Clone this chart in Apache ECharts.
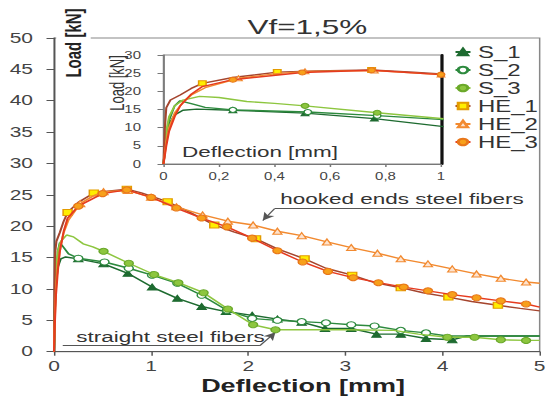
<!DOCTYPE html>
<html><head><meta charset="utf-8">
<script src="https://cdn.jsdelivr.net/npm/echarts/dist/echarts.min.js"></script>
<style>
html,body{margin:0;padding:0;background:#fff;}
#wrap{width:550px;height:396px;overflow:hidden;position:relative;}
#c{width:367px;height:396px;transform:scaleX(1.49864);transform-origin:0 0;}
</style>
</head><body><div id="wrap"><div id="c"></div></div>
<script>
// ---- data: [deflection (mm), load (kN), marker shown (1/0)] ----
const seriesNames = ['S_1','S_2','S_3','HE_1','HE_2','HE_3'];
const s1 = [[0,0,0],[0.01,7,0],[0.02,11,0],[0.04,13.5,0],[0.07,14.8,0],[0.12,15.1,0],[0.25,14.8,1],[0.51,14.0,1],[0.76,12.5,1],[1.01,10.3,1],[1.27,8.5,1],[1.52,7.2,1],[1.77,6.4,1],[2.04,5.8,1],[2.3,5.2,1],[2.55,4.7,1],[2.79,3.7,1],[3.06,3.7,1],[3.32,2.8,1],[3.57,2.8,1],[3.83,2.1,1],[4.1,1.9,1],[4.25,2.5,0],[5,2.5,0]];
const s2 = [[0,0,0],[0.01,8,0],[0.02,12,0],[0.04,16,0],[0.06,17.4,0],[0.1,16.6,0],[0.15,15.6,0],[0.25,14.9,1],[0.52,14.3,1],[0.77,13.3,1],[1.01,12.2,1],[1.27,10.9,1],[1.52,9.0,1],[1.78,6.6,1],[2.04,5.3,1],[2.3,5.0,1],[2.55,4.8,1],[2.8,4.6,1],[3.06,4.3,1],[3.3,4.1,1],[3.57,3.4,1],[3.83,3.0,1],[4.05,2.5,0],[5,2.5,0]];
const s3 = [[0,0,0],[0.01,9,0],[0.02,13,0],[0.04,16,0],[0.07,17.6,0],[0.13,18.6,0],[0.2,18.3,0],[0.3,17.2,0],[0.4,16.7,0],[0.51,16.0,1],[0.77,14.1,1],[1.03,12.3,1],[1.28,11.0,1],[1.54,9.4,1],[1.79,6.8,1],[2.05,4.3,1],[2.28,3.5,1],[2.6,3.5,0],[3.0,3.5,0],[3.5,3.4,0],[3.75,2.8,0],[4.05,2.3,1],[4.33,2.3,1],[4.6,1.9,1],[4.86,1.8,1],[5,1.8,0]];
const he1 = [[0,0,0],[0.005,10,0],[0.01,15.5,0],[0.025,17.6,0],[0.06,19,0],[0.1,20.8,0],[0.14,22.2,1],[0.25,23.8,0],[0.41,25.3,1],[0.55,25.6,0],[0.75,25.9,1],[0.9,25.3,0],[1.0,24.8,0],[1.17,23.9,1],[1.4,22.2,0],[1.65,20.2,1],[1.85,19.1,0],[2.08,18.0,1],[2.3,16.4,0],[2.58,14.8,1],[2.8,13.3,0],[3.07,12.2,1],[3.3,11.0,0],[3.57,10.2,1],[3.8,9.4,0],[4.06,8.7,1],[4.3,8.0,0],[4.57,7.4,1],[4.8,6.9,0],[5,6.5,0]];
const he2 = [[0,0,0],[0.01,6,0],[0.02,10,0],[0.04,14,0],[0.07,17,0],[0.1,19,0],[0.15,21,0],[0.27,23.6,1],[0.4,24.8,0],[0.51,25.5,1],[0.76,25.7,1],[1.0,24.6,1],[1.26,23.1,1],[1.53,21.8,1],[1.79,20.8,1],[2.05,20.2,1],[2.3,19.2,1],[2.55,18.5,1],[2.81,17.5,1],[3.06,16.6,1],[3.33,15.7,1],[3.57,14.8,1],[3.85,14.0,1],[4.1,13.2,1],[4.35,12.4,1],[4.6,11.7,1],[4.86,11.1,1],[5,10.9,0]];
const he3 = [[0,0,0],[0.01,5,0],[0.02,9,0],[0.04,13,0],[0.06,16,0],[0.1,19.2,0],[0.14,21.3,0],[0.25,23.2,1],[0.5,25.2,1],[0.75,25.8,1],[1.0,24.6,1],[1.26,22.9,1],[1.52,21.3,1],[1.78,19.9,1],[2.04,18.1,1],[2.3,16.1,1],[2.56,14.3,1],[2.82,12.8,1],[3.08,11.8,1],[3.34,11.0,1],[3.6,10.3,1],[3.85,9.7,1],[4.1,9.1,1],[4.35,8.6,1],[4.6,8.1,1],[4.86,7.6,1],[5,7.1,0]];
const seriesData = [s1, s2, s3, he1, he2, he3];

const mainXLabels = ['0','1','2','3','4','5'];
const mainYLabels = ['0','5','10','15','20','25','30','35','40','45','50'];
const insetXLabels = ['0','0,2','0,4','0,6','0,8','1'];
const insetYLabels = ['0','5','10','15','20','25','30'];

// ---- styles ----
const FONT = 'Liberation Sans, Arial, sans-serif';
const styles = [
  {line:'#1e6b30', symbol:'triangle', fill:'#1e6b30', border:'#1e6b30'},
  {line:'#2d8a3e', symbol:'circle',   fill:'#ffffff', border:'#2d8a3e'},
  {line:'#8dc63f', symbol:'circle',   fill:'#8dc63f', border:'#6aa82a'},
  {line:'#a5452e', symbol:'rect',     fill:'#ffee00', border:'#e39b00'},
  {line:'#f28a30', symbol:'triangle', fill:'#fde3cf', border:'#f28a30'},
  {line:'#e63b1f', symbol:'circle',   fill:'#f7a01a', border:'#e8761a'}
];

function build(i, idx, size) {
  const st = styles[i];
  return {
    name: seriesNames[i], type: 'line', xAxisIndex: idx, yAxisIndex: idx,
    symbol: st.symbol, symbolSize: size, showSymbol: true, showAllSymbol: true,
    lineStyle: {color: st.line, width: 1.4},
    itemStyle: {color: st.fill, borderColor: st.border, borderWidth: 1},
    data: seriesData[i].map(p => p[2] ? {value: [p[0], p[1]]} : {value: [p[0], p[1]], symbol: 'none'}),
    clip: true, animation: false, silent: true, z: 5 + i
  };
}

const series = [];
for (let i = 0; i < 6; i++) series.push(build(i, 0, 6));
for (let i = 0; i < 6; i++) series.push(build(i, 1, 5));

const annLabel = {color:'#333', fontSize:15, fontFamily:FONT};
// annotations on main grid
series[4].markLine = {
  silent: true, animation: false, symbol: ['none','none'], symbolSize: [6, 8],
  lineStyle: {color:'#555', width:1, type:'solid'}, label: {show:false},
  data: [
    [{coord:[2.27,22.8]},{coord:[4.72,22.8]}],
    [{coord:[2.27,22.8]},{coord:[2.15,20.9], symbol:'arrow'}]
  ]
};
series[4].markPoint = {
  silent: true, animation: false, symbol: 'circle', symbolSize: 0,
  itemStyle: {color:'transparent'},
  label: Object.assign({show:true, position:'right', distance:0}, annLabel),
  data: [{coord:[2.33,24.3], value:0, label:{formatter:'hooked ends steel fibers'}}]
};
series[0].markLine = {
  silent: true, animation: false, symbol: ['none','none'], symbolSize: [6, 8],
  lineStyle: {color:'#555', width:1, type:'solid'}, label: {show:false},
  data: [
    [{coord:[0.09,0.96]},{coord:[2.12,0.96]}],
    [{coord:[2.12,0.96]},{coord:[2.28,3.1], symbol:'arrow'}]
  ]
};
series[0].markPoint = {
  silent: true, animation: false, symbol: 'circle', symbolSize: 0,
  itemStyle: {color:'transparent'},
  label: Object.assign({show:true, position:'right', distance:0}, annLabel),
  data: [{coord:[0.23,2.3], value:0, label:{formatter:'straight steel fibers'}}]
};

const S = 550 / 367;
const px = x => x / S;

const option = {
  backgroundColor: '#fff',
  animation: false,
  textStyle: {fontFamily: FONT},
  title: {text: 'Vf=1,5%', left: px(240), top: 11,
    textStyle: {fontSize: 21, fontWeight: 'normal', color: '#333', fontFamily: FONT}},
  legend: {
    data: seriesNames, orient: 'vertical', left: px(454), top: 44,
    itemWidth: 10, itemHeight: 8, itemGap: 2, padding: 0,
    textStyle: {fontSize: 16, color: '#333', fontFamily: FONT}
  },
  grid: [
    {left: px(54), right: px(5), top: 38, bottom: 44.3, show: true, borderColor: '#888', borderWidth: 1},
    {left: px(163.5), right: px(109), top: 55, bottom: 232, show: true, borderColor: '#888', borderWidth: 1, backgroundColor: '#fff'}
  ],
  xAxis: [
    {type:'value', gridIndex:0, min:0, max:5, interval:1,
      axisLine:{show:true, lineStyle:{color:'#555'}}, axisTick:{show:true, length:4, lineStyle:{color:'#555'}},
      axisLabel:{fontSize:14, color:'#444', margin:8, formatter:(v,i)=>mainXLabels[i]}, splitLine:{show:false}},
    {type:'value', gridIndex:1, min:0, max:1, interval:0.2,
      axisLine:{show:true, lineStyle:{color:'#777'}}, axisTick:{show:true, length:3, lineStyle:{color:'#777'}},
      axisLabel:{fontSize:10, color:'#444', margin:7, formatter:(v,i)=>insetXLabels[i]}, splitLine:{show:false}}
  ],
  yAxis: [
    {type:'value', gridIndex:0, min:0, max:50, interval:5,
      axisLine:{show:true, lineStyle:{color:'#555'}}, axisTick:{show:true, length:5, lineStyle:{color:'#555'}},
      axisLabel:{fontSize:14, color:'#444', margin:14, formatter:(v,i)=>mainYLabels[i]}, splitLine:{show:false}},
    {type:'value', gridIndex:1, min:0, max:30, interval:5,
      axisLine:{show:true, lineStyle:{color:'#777'}}, axisTick:{show:true, length:4, lineStyle:{color:'#777'}},
      axisLabel:{fontSize:10, color:'#444', margin:15, formatter:(v,i)=>insetYLabels[i]}, splitLine:{show:false}},
    {type:'value', gridIndex:1, min:0, max:30, position:'right',
      axisLine:{show:true, lineStyle:{color:'#111', width:2}}, axisTick:{show:false},
      axisLabel:{show:false}, splitLine:{show:false}}
  ],
  graphic: [
    {type:'text', x: px(73.5), y: 43, rotation: Math.PI/2, z: 100,
      style:{text:'Load [kN]', font:'bold 15px ' + FONT, fill:'#222', align:'center', verticalAlign:'middle',
        backgroundColor:'#fff', padding:[4,2]}},
    {type:'text', x: px(303), y: 386, z: 100,
      style:{text:'Deflection [mm]', font:'bold 18px ' + FONT, fill:'#222', align:'center', verticalAlign:'middle'}},
    {type:'text', x: px(118), y: 83, rotation: Math.PI/2, z: 100,
      style:{text:'Load [kN]', font:'13px ' + FONT, fill:'#333', align:'center', verticalAlign:'middle'}},
    {type:'text', x: px(182), y: 152, z: 100,
      style:{text:'Deflection [mm]', font:'15px ' + FONT, fill:'#333', align:'left', verticalAlign:'middle'}}
  ],
  series: series
};

const chart = echarts.init(document.getElementById('c'), null, {renderer: 'svg'});
chart.setOption(option);
</script>
</body></html>
